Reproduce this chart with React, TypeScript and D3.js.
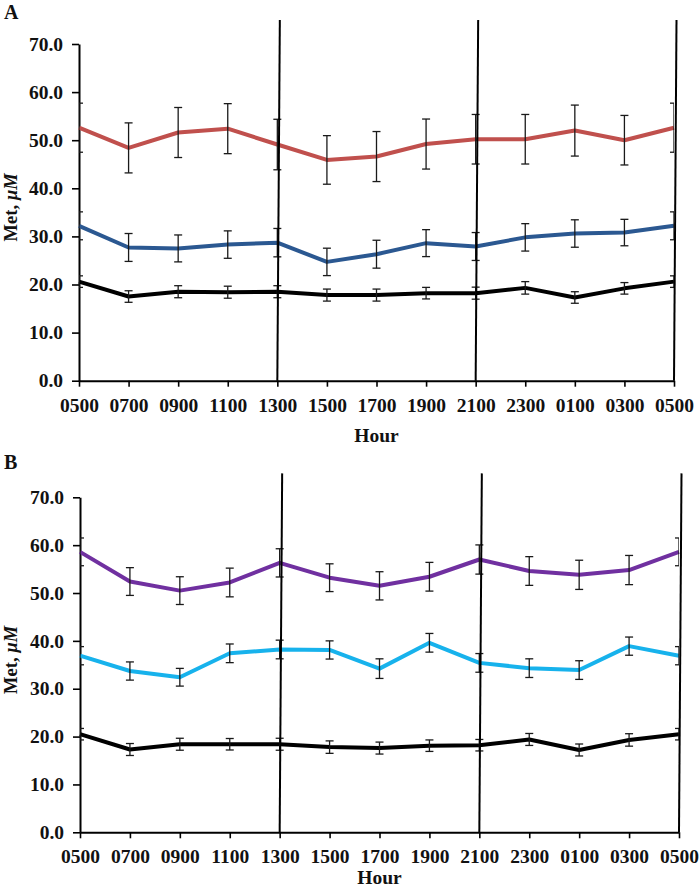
import React, { useRef, useEffect } from "react";
import * as d3 from "d3";

// x categories (the 0500 point is repeated at the end of the 24 h cycle)
const hours = ["0500", "0700", "0900", "1100", "1300", "1500", "1700", "1900", "2100", "2300", "0100", "0300", "0500"];
const yTicks = [0, 10, 20, 30, 40, 50, 60, 70];
// vertical marker lines drawn at these hour indices, up to this value
const markerIdx = [4, 8, 12];
const markerTop = 75;

// Panel A
const redMeans = [52.6, 48.4, 51.6, 52.4, 49.1, 45.9, 46.6, 49.2, 50.2, 50.2, 52.0, 50.0, 52.6];
const redErr = [5.1, 5.2, 5.2, 5.2, 5.25, 5.05, 5.2, 5.2, 5.15, 5.15, 5.3, 5.15, 5.1];
const blueMeans = [32.2, 27.7, 27.5, 28.3, 28.7, 24.7, 26.3, 28.6, 27.9, 29.8, 30.6, 30.8, 32.2];
const blueErr = [2.9, 2.9, 2.8, 2.85, 2.95, 2.85, 2.9, 2.8, 2.9, 2.85, 2.85, 2.75, 2.9];
const blackMeansA = [20.6, 17.5, 18.5, 18.4, 18.5, 17.8, 17.8, 18.2, 18.2, 19.3, 17.3, 19.2, 20.6];
const blackErrA = [1.2, 1.2, 1.25, 1.25, 1.25, 1.25, 1.25, 1.2, 1.25, 1.3, 1.2, 1.2, 1.2];

// Panel B
const purpleMeans = [58.6, 52.4, 50.5, 52.2, 56.3, 53.2, 51.5, 53.4, 57.0, 54.6, 53.8, 54.8, 58.6];
const purpleErr = [2.9, 2.9, 2.9, 3.0, 2.95, 2.9, 2.95, 3.0, 3.05, 3.0, 3.05, 3.05, 2.9];
const cyanMeans = [36.9, 33.7, 32.4, 37.4, 38.2, 38.1, 34.2, 39.6, 35.4, 34.3, 33.9, 38.9, 36.9];
const cyanErr = [1.9, 1.9, 1.85, 1.95, 1.95, 1.9, 2.05, 1.95, 1.95, 1.95, 1.95, 1.9, 1.9];
const blackMeansB = [20.5, 17.3, 18.4, 18.4, 18.4, 17.8, 17.6, 18.1, 18.2, 19.4, 17.2, 19.3, 20.5];
const blackErrB = [1.2, 1.25, 1.25, 1.2, 1.25, 1.3, 1.25, 1.2, 1.2, 1.25, 1.25, 1.3, 1.2];

const FONT = "'Liberation Serif', 'Times New Roman', serif";

const panels = [
    {
        label: "A", x0: 79, x1: 674, yTop: 44, yBot: 380.7, labelY: 19, hourY: 442,
        series: [
            { means: redMeans, err: redErr, color: "#c0504d" },
            { means: blueMeans, err: blueErr, color: "#2b5891" },
            { means: blackMeansA, err: blackErrA, color: "#000000" },
        ],
    },
    {
        label: "B", x0: 80, x1: 679, yTop: 497.3, yBot: 832.3, labelY: 469, hourY: 884,
        series: [
            { means: purpleMeans, err: purpleErr, color: "#7030a0" },
            { means: cyanMeans, err: cyanErr, color: "#17b2ec" },
            { means: blackMeansB, err: blackErrB, color: "#000000" },
        ],
    },
];

const App = () => {
    const svgRef = useRef(null);
    const width = 700;
    const height = 894;

    useEffect(() => {
        const svg = d3.select(svgRef.current);
        svg.selectAll("*").remove();

        svg.append("rect").attr("width", width).attr("height", height).attr("fill", "#ffffff");

        panels.forEach((p, pi) => drawPanel(svg, p, pi));
    }, []);

    const drawPanel = (svg, p, pi) => {
        const x = d3.scaleLinear().domain([0, hours.length - 1]).range([p.x0, p.x1]);
        const y = d3.scaleLinear().domain([0, 70]).range([p.yBot, p.yTop]);
        const g = svg.append("g");

        // clip so the first / last error bars only show their inner half
        const clipId = `clip-${pi}`;
        svg.append("defs").append("clipPath").attr("id", clipId)
            .append("rect")
            .attr("x", p.x0).attr("y", 0)
            .attr("width", p.x1 - p.x0).attr("height", height);

        // Axes
        const yAxis = g.append("g")
            .attr("transform", `translate(${p.x0},0)`)
            .call(d3.axisLeft(y).tickValues(yTicks).tickFormat(d3.format(".1f")).tickSize(7).tickSizeOuter(0).tickPadding(9));

        const xAxis = g.append("g")
            .attr("transform", `translate(0,${p.yBot})`)
            .call(d3.axisBottom(x).tickValues(d3.range(hours.length)).tickFormat(i => hours[i]).tickSize(6).tickSizeOuter(0));

        [yAxis, xAxis].forEach(ax => {
            ax.select(".domain").attr("stroke", "#000").attr("stroke-width", 2);
            ax.selectAll(".tick line").attr("stroke", "#000").attr("stroke-width", 1.6);
            ax.selectAll("text")
                .attr("fill", "#111")
                .style("font-family", FONT)
                .style("font-size", "19.5px")
                .style("font-weight", "bold");
        });
        xAxis.selectAll("text").attr("dy", null).attr("y", 31);

        // Series lines
        const line = d3.line().x((d, i) => x(i)).y(d => y(d));
        const plot = g.append("g");
        p.series.forEach(s => {
            plot.append("path")
                .datum(s.means)
                .attr("d", line)
                .attr("fill", "none")
                .attr("stroke", s.color)
                .attr("stroke-width", 4)
                .attr("stroke-linejoin", "round");
        });

        // Error bars
        const bars = g.append("g").attr("clip-path", `url(#${clipId})`);
        p.series.forEach(s => {
            s.means.forEach((m, i) => {
                const cx = x(i);
                const top = y(m + s.err[i]);
                const bot = y(m - s.err[i]);
                const eb = bars.append("g").attr("stroke", "#1a1a1a").attr("stroke-width", 1.3);
                eb.append("line").attr("x1", cx).attr("x2", cx).attr("y1", top).attr("y2", bot);
                eb.append("line").attr("x1", cx - 4).attr("x2", cx + 4).attr("y1", top).attr("y2", top);
                eb.append("line").attr("x1", cx - 4).attr("x2", cx + 4).attr("y1", bot).attr("y2", bot);
            });
        });

        // Vertical marker lines (slightly leaning, as in the original)
        markerIdx.forEach(i => {
            g.append("line")
                .attr("x1", x(i)).attr("y1", y(0))
                .attr("x2", x(i) + 2.5).attr("y2", y(markerTop))
                .attr("stroke", "#000")
                .attr("stroke-width", 2);
        });

        // Panel letter
        g.append("text")
            .attr("x", 4).attr("y", p.labelY)
            .style("font-family", FONT).style("font-size", "20px").style("font-weight", "bold")
            .attr("fill", "#111")
            .text(p.label);

        // Axis titles
        g.append("text")
            .attr("x", (p.x0 + p.x1) / 2).attr("y", p.hourY)
            .attr("text-anchor", "middle")
            .style("font-family", FONT).style("font-size", "19.5px").style("font-weight", "bold")
            .attr("fill", "#111")
            .text("Hour");

        const yt = g.append("text")
            .attr("transform", `translate(17,${(p.yTop + p.yBot) / 2 - 5}) rotate(-90)`)
            .attr("text-anchor", "middle")
            .style("font-family", FONT).style("font-size", "18.5px").style("font-weight", "bold")
            .attr("fill", "#111");
        yt.append("tspan").text("Met, ");
        yt.append("tspan").style("font-style", "italic").text("µM");
    };

    return (
        <div>
            <svg ref={svgRef} width={width} height={height}
                style={{ position: "absolute", left: 0, top: 0, display: "block" }}></svg>
        </div>
    );
};

export default App;
